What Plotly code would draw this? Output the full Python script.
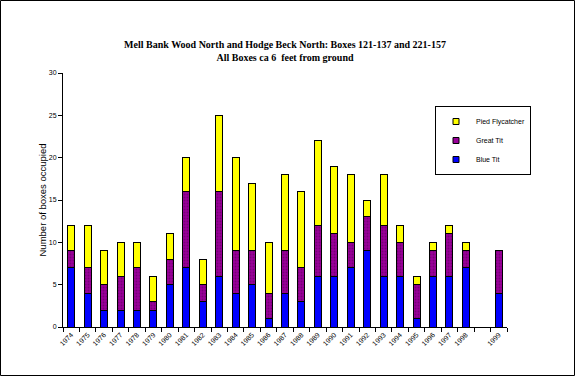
import plotly.graph_objects as go

years = ["1974", "1975", "1976", "1977", "1978", "1979", "1980", "1981", "1982",
         "1983", "1984", "1985", "1986", "1987", "1988", "1989", "1990", "1991",
         "1992", "1993", "1994", "1995", "1996", "1997", "1998", " ", "1999"]
blue_tit = [7, 4, 2, 2, 2, 2, 5, 7, 3, 6, 4, 5, 1, 4, 3, 6, 6, 7, 9, 6, 6, 1, 6, 6, 7, None, 4]
great_tit = [2, 3, 3, 4, 5, 1, 3, 9, 2, 10, 5, 4, 3, 5, 4, 6, 5, 3, 4, 6, 4, 4, 3, 5, 2, None, 5]
pied_flycatcher = [3, 5, 4, 4, 3, 3, 3, 4, 3, 9, 11, 8, 6, 9, 9, 10, 8, 8, 2, 6, 2, 1, 1, 1, 1, None, 0]

names = ["Pied Flycatcher", "Great Tit", "Blue Tit"]
colors = {"Pied Flycatcher": "#FFFF00", "Great Tit": "#990099", "Blue Tit": "#0000FF"}

W, H = 575, 376
L, R, T, B = 63, 507, 73, 327
pw, ph = R - L, B - T

fig = go.Figure()
line = dict(color="black", width=1)
fig.add_bar(x=years, y=blue_tit, name="Blue Tit", showlegend=False,
            marker=dict(color=colors["Blue Tit"], line=line), width=0.42)
fig.add_bar(x=years, y=great_tit, name="Great Tit", showlegend=False,
            marker=dict(color=colors["Great Tit"], line=line,
                        pattern=dict(shape=".", fgcolor="#550055", bgcolor="#990099",
                                     size=3, solidity=0.3)), width=0.42)
fig.add_bar(x=years, y=pied_flycatcher, name="Pied Flycatcher", showlegend=False,
            marker=dict(color=colors["Pied Flycatcher"], line=line), width=0.42)

# legend entries with small square symbols
for n in names:
    fig.add_scatter(x=[None], y=[None], mode="markers", name=n,
                    marker=dict(symbol="square", size=6, color=colors[n],
                                line=dict(color="black", width=1)))

fig.update_layout(
    barmode="stack",
    width=W, height=H,
    margin=dict(l=L, r=W - R, t=T, b=H - B, pad=0, autoexpand=False),
    paper_bgcolor="white", plot_bgcolor="white",
    font=dict(family="Arial", color="black", size=7),
    title=dict(text="<b>Mell Bank Wood North and Hodge Beck North: Boxes 121-137 and 221-157<br>All Boxes ca 6  feet from ground</b>",
               x=285 / W, xanchor="center", y=1 - 39 / H, yanchor="top",
               font=dict(family="Liberation Serif", size=10, color="black")),
    legend=dict(x=(435 - L) / pw, y=(B - 106) / ph, xanchor="left", yanchor="top",
                bordercolor="black", borderwidth=1, bgcolor="white",
                font=dict(family="Arial", size=7), traceorder="normal",
                itemwidth=30, tracegroupgap=0, entrywidth=60),
    bargap=0.58,
    showlegend=True,
)
fig.update_xaxes(type="category", categoryorder="array", categoryarray=years,
                 tickson="boundaries", ticks="outside", ticklen=4, tickcolor="black",
                 showline=True, linecolor="black", linewidth=1, showgrid=False,
                 automargin=False,
                 tickangle=-45, tickfont=dict(size=7, family="Arial"))
fig.update_yaxes(range=[0, 30], dtick=5, ticks="outside", ticklen=4, tickcolor="black",
                 showline=True, linecolor="black", linewidth=1, showgrid=False,
                 zeroline=False, tickfont=dict(size=7, family="Arial"), automargin=False,
                 title=dict(text="Number of boxes occupied", standoff=0,
                            font=dict(size=9.5, family="Arial")))
fig.add_shape(type="rect", xref="paper", yref="paper",
              x0=(0.5 - L) / pw, x1=(W - 0.5 - L) / pw,
              y0=(B - (H - 0.5)) / ph, y1=(B - 0.5) / ph,
              line=dict(color="black", width=1), fillcolor="rgba(0,0,0,0)", layer="above")

fig.update_layout(title_y=1 - 39 / H)
fig.layout.title.y = 1 - 48 / H

fig.write_html("out.html", config={"displayModeBar": False},
               post_script="document.body.style.margin='0';document.body.style.overflow='hidden';")
